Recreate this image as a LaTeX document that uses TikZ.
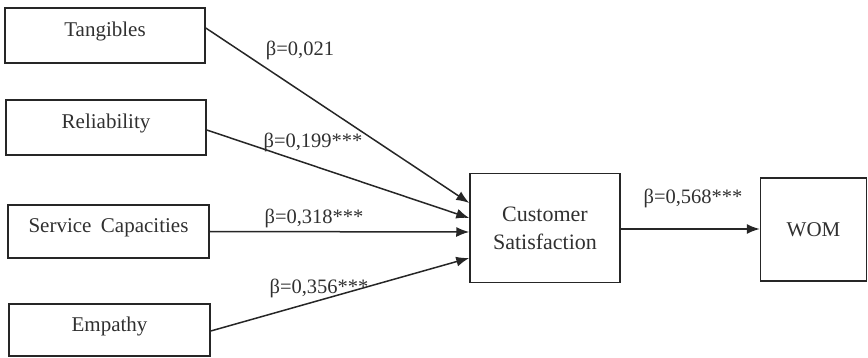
\documentclass[tikz,border=0pt]{standalone}
\usepackage{fontspec}
\setmainfont{Liberation Serif}
\usetikzlibrary{arrows.meta}
\definecolor{ink}{HTML}{262626}
\definecolor{txt}{HTML}{303030}
\begin{document}
\begin{tikzpicture}[x=1pt,y=-1pt,
  font=\fontsize{20.5}{28}\selectfont,
  box/.style={draw=ink,line width=1.5pt,inner sep=0pt,text=txt,align=center,
    font=\fontsize{21}{28}\selectfont},
  raised/.style={text height=14pt,text depth=12pt},
  path/.style={draw=ink,line width=1.5pt,-{Latex[length=13pt,width=10pt]}},
  coef/.style={text=txt,inner sep=0pt}]
\useasboundingbox (0,0) rectangle (868,358);
% constructs
\node[box,raised,minimum width=200pt,minimum height=55pt] (T) at (105,35.5) {Tangibles};
\node[box,raised,minimum width=200pt,minimum height=55pt] (R) at (106,127.5) {Reliability};
\node[box,raised,minimum width=201pt,minimum height=53pt] (S) at (108.5,231.5) {Service\hspace{0.45em}Capacities};
\node[box,raised,minimum width=201pt,minimum height=52pt] (E) at (109.5,330) {Empathy};
\node[box,font=\fontsize{22}{28}\selectfont,minimum width=150pt,minimum height=109pt] (CS) at (545,228) {Customer\\Satisfaction};
\node[box,minimum width=106pt,minimum height=103pt] (W) at (813.5,229.5) {WOM};
% structural paths
\draw[path] ([yshift=7.5pt]T.east) -- ([yshift=25pt]CS.west);
\draw[path] ([yshift=-2.5pt]R.east) -- ([yshift=10pt]CS.west);
\draw[path] (S.east) -- ([yshift=-4pt]CS.west);
\draw[path] ([yshift=-1pt]E.east) -- ([yshift=-30pt]CS.west);
\draw[path] ([yshift=-1pt]CS.east) -- ([yshift=0.5pt]W.west);
% path coefficients
\node[coef] (bT) at (300,50) {β=0,021};
\node[coef] (bR) at (313,142) {β=0,199***};
\node[coef] (bS) at (314,218) {β=0,318***};
\node[coef] (bE) at (319,288) {β=0,356***};
\node[coef] (bW) at (693,198) {β=0,568***};
\end{tikzpicture}
\end{document}
